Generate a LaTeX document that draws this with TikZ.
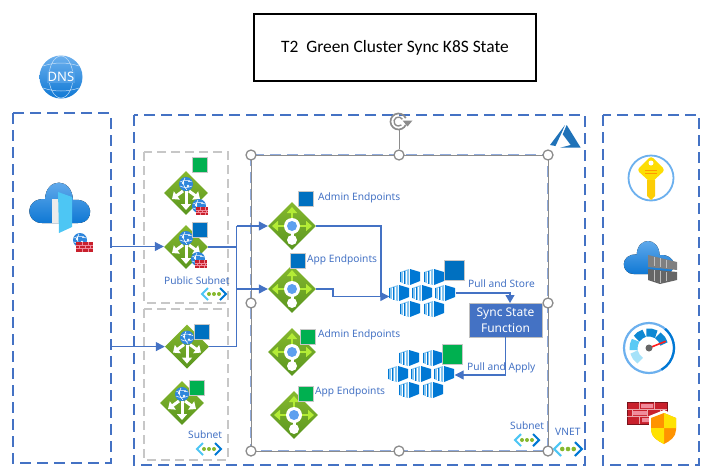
\documentclass[tikz,border=0pt]{standalone}
\usepackage{fontspec}
\setmainfont{Noto Sans}
\newfontfamily\titlefont{Carlito}
\usetikzlibrary{shapes.geometric,arrows.meta,calc}
\definecolor{azblue}{HTML}{4472C4}
\definecolor{handlegray}{HTML}{8C8C8C}
\definecolor{sqblue}{HTML}{0070C0}
\definecolor{sqgreen}{HTML}{00B050}
\definecolor{lbtop}{HTML}{86B82E}
\definecolor{lbbot}{HTML}{5A961F}
\definecolor{limearrow}{HTML}{B4EC36}
\definecolor{kblue}{HTML}{0078D4}
\definecolor{kpale}{HTML}{83C4F0}
\definecolor{cloudtop}{HTML}{6CB0EE}
\definecolor{cloudbot}{HTML}{0F78D4}
\definecolor{brick}{HTML}{C8202C}
\definecolor{brickpale}{HTML}{F08A9A}
\definecolor{azlogo}{HTML}{1F72B8}
\definecolor{hubdot}{HTML}{5EA0EF}
\definecolor{globeblue}{HTML}{2E86DC}
\tikzset{
  x=1pt,y=-1pt,
  zone/.style={draw=azblue,line width=2pt,dash pattern=on 11pt off 6pt},
  graybox/.style={draw=black!22,line width=1.8pt,dash pattern=on 9pt off 5pt},
  handle/.style={circle,draw=handlegray,fill=white,line width=1.3pt,minimum size=10pt,inner sep=0pt},
  lbpub/.style={diamond,aspect=1,inner sep=0pt,minimum size=44pt,top color=lbtop,bottom color=lbbot,draw=none},
  lbint/.style={diamond,aspect=1,inner sep=0pt,minimum size=48pt,top color=lbtop,bottom color=lbbot,draw=none},
  sq/.style={draw=black!22,line width=.8pt,minimum size=15pt,inner sep=0pt},
  sqb/.style={sq,fill=sqblue},
  sqg/.style={sq,fill=sqgreen},
  lab/.style={text=azblue,font=\fontsize{10.2}{12}\selectfont,inner sep=0pt,anchor=west},
  link/.style={draw=azblue,line width=1.1pt},
  linka/.style={link,-{Triangle[length=9pt,width=9pt]}},
  linkb/.style={link,-{Triangle[length=8pt,width=9pt]}},
  pics/pubarrows/.style={code={
    \draw[white,line width=3pt,-{Triangle[length=6pt,width=10pt]}] (0,-2)--(0,17);
    \draw[white,line width=3pt,-{Triangle[length=6pt,width=10pt]}] (-3,-2)--(-14,6);
    \draw[white,line width=3pt,-{Triangle[length=6pt,width=10pt]}] (3,-2)--(14,6);
    \pic at (0,-9) {globe};
  }},
  pics/globe/.style={code={
    \fill[globeblue] (0,0) circle (7);
    \draw[white,line width=.5pt] (-6,-2) .. controls (-2,-4) and (2,-4) .. (6,-2);
    \draw[white,line width=.5pt] (-6,2) .. controls (-2,4) and (2,4) .. (6,2);
    \draw[white,line width=.6pt] (-1,-6) .. controls (-4,-2) and (-3,2) .. (1,6);
    \fill[white] (-3,-1) circle (1.3) (2,2) circle (1.3) (3,-3) circle (1);
  }},
  pics/intarrows/.style={code={
    \draw[limearrow,line width=2.6pt,-{Triangle[length=6pt,width=10pt]}] (0,-5)--(0,-19);
    \draw[limearrow,line width=2.6pt,-{Triangle[length=6pt,width=10pt]}] (-5,0)--(-20,0);
    \draw[limearrow,line width=2.6pt,-{Triangle[length=6pt,width=10pt]}] (5,0)--(20,0);
    \draw[white,line width=3pt] (0,5)--(0,12);
    \fill[white] (0,14) circle (5);
    \fill[white] (0,0) circle (8);
    \fill[hubdot] (0,0) circle (5);
  }},
  pics/fwglobe/.style={code={
    \begin{scope}[scale=1.55]\pic at (0,0) {globe};\end{scope}
    \fill[brick] (-4,2) rectangle (13,12);
    \draw[brickpale,line width=.5pt] (-4,5.3)--(13,5.3) (-4,8.6)--(13,8.6) (2,2)--(2,5.3) (8,2)--(8,5.3) (-1,5.3)--(-1,8.6) (5,5.3)--(5,8.6) (10,5.3)--(10,8.6) (2,8.6)--(2,12) (8,8.6)--(8,12);
  }},
  pics/netdots/.style={code={
    \draw[cyan!70!white,line width=2.1pt] (-6,-6)--(-12,0)--(-6,6);
    \draw[kblue,line width=2.1pt] (6,-6)--(12,0)--(6,6);
    \fill[lbtop] (-5,0) circle (2) (0,0) circle (2) (5,0) circle (2);
  }},
  pics/kcube/.style={code={
    \fill[kpale] (-10,-5)--(-1,-8)--(-1,8)--(-10,5)--cycle;
    \draw[white,line width=.7pt] (-7,-5.5)--(-7,5.5) (-4,-6.5)--(-4,6.5);
    \draw[kblue,line width=.5pt] (-10,-5)--(-10,5) (-5.5,-6.5)--(-5.5,6.5);
    \fill[kblue] (0,-8)--(10,-5)--(10,4)--(0,8)--cycle;
  }},
  pics/kcluster/.style={code={
    \foreach \p/\q in {-12/-16,12/-16,-23/0,0/0,23/0,-12/16,12/16}{\pic at (\p,\q) {kcube};}
  }},
  pics/plaincloud/.style={code={
    \fill[top color=cloudtop,bottom color=cloudbot]
      (-18,16) .. controls (-35,16) and (-36,-9) .. (-15,-8)
      .. controls (-14,-30) and (12,-30) .. (13,-7)
      .. controls (34,-10) and (36,16) .. (18,16) -- cycle;
  }},
}
\begin{document}
\begin{tikzpicture}
\useasboundingbox (0,0) rectangle (709,472);
% zones
\draw[zone] (13,113) rectangle (110.5,463);
\draw[zone] (134,115) rectangle (585,465);
\draw[zone] (603,115) rectangle (699,465);
\draw[graybox] (144,152) rectangle (228,303);
\draw[graybox] (144,309) rectangle (228,460);
% title
\node[draw=black,line width=1.2pt,minimum width=282pt,minimum height=67pt,inner sep=0pt,font=\titlefont\fontsize{17.4}{20}\selectfont] (title) at (395,47.5) {T2\ \ Green Cluster Sync K8S State};
% selected area
\coordinate (selnw) at (251,155);
\coordinate (selse) at (548,451);
\draw[azblue!60!white,line width=1.7pt,dash pattern=on 11pt off 6pt] (selnw) rectangle (selse);
\draw[handlegray,line width=.8pt] (selnw) rectangle (selse);
\node[handle] (h2) at (399,155) {};
\draw[handlegray,line width=.8pt] (399,130) -- (h2);
\begin{scope}[shift={(398.5,121.5)},yscale=-1]
  \draw[handlegray,line width=1.7pt] (25:8) arc[start angle=25,end angle=335,radius=8];
  \draw[handlegray,line width=1.4pt] (30:4.5) arc[start angle=30,end angle=310,radius=4.5];
  \fill[handlegray] (4,1) -- (14,1) -- (9,-5) -- cycle;
\end{scope}
\node[handle] at (251,155) {};
\node[handle] at (548,155) {};
\node[handle] at (251,303) {};
\node[handle] at (548,303) {};
\node[handle] at (251,451) {};
\node[handle] at (399,451) {};
\node[handle] at (548,451) {};
% DNS
\node[circle,inner sep=0pt,minimum size=43pt,top color=cloudtop,bottom color=cloudbot] (dns) at (61,77) {};
\draw[white!60!cloudtop,line width=.5pt] (dns.center) ellipse (12 and 21);
\draw[white!60!cloudtop,line width=.5pt] (43,66)..controls (55,62) and (67,62)..(79,66) (43,88)..controls (55,92) and (67,92)..(79,88);
\node[text=white,font=\fontsize{13}{15}\selectfont,fill=cloudtop!70!cloudbot,inner sep=1pt] at (dns) {DNS};
% front door
\coordinate (door) at (60,207);
\pic at (door) {plaincloud};
\fill[black!8] (52,199) rectangle (59,223);
\fill[cyan!70!white] (58,192) -- (72,197) -- (72,227) -- (59,233) -- cycle;
\pic at (80,240) {fwglobe};
\node[inner sep=0pt,minimum size=1pt] (doorA) at (110,246.5) {};
\node[inner sep=0pt,minimum size=1pt] (doorB) at (110,346.6) {};
% public load balancers
\node[lbpub] (lba) at (186,193) {}; \pic at (lba) {pubarrows};
\node[lbpub] (lbb) at (186,247) {}; \pic at (lbb) {pubarrows};
\node[lbpub] (lbc) at (187,346.6) {}; \pic at (lbc) {pubarrows};
\node[lbpub] (lbd) at (182,403) {}; \pic at (lbd) {pubarrows};
\pic[scale=.72] at (199,206) {fwglobe};
\pic[scale=.72] at (198,259) {fwglobe};
\node[sqg] (sa) at (200,165) {};
\node[sqb] (sb) at (200,230) {};
\node[sqb] (sc) at (202,332) {};
\node[sqg] (sd) at (197,388) {};
% internal load balancers
\node[lbint] (ila) at (292,226) {}; \pic at (ila) {intarrows};
\node[lbint] (ilb) at (292,289) {}; \pic at (ilb) {intarrows};
\node[lbint] (ilc) at (292,352) {}; \pic at (ilc) {intarrows};
\node[lbint] (ild) at (294,415) {}; \pic at (ild) {intarrows};
\node[sqb] (sia) at (306,199) {};
\node[sqb] (sib) at (298,261) {};
\node[sqg] (sic) at (308,337) {};
\node[sqg] (sid) at (306,394) {};
\node[lab] (la) at (318,198) {Admin Endpoints};
\node[lab] (lb) at (307,260) {App Endpoints};
\node[lab] (lc) at (318,335) {Admin Endpoints};
\node[lab] (ld) at (315,392) {App Endpoints};
% clusters
\coordinate (ka) at (422,293);
\coordinate (kb) at (421,374);
\pic at (ka) {kcluster};
\pic at (kb) {kcluster};
\node[inner sep=0pt,minimum size=1pt] (kain) at (390,296.5) {};
\node[inner sep=0pt,minimum size=1pt] (kaout) at (455,293) {};
\node[inner sep=0pt,minimum size=1pt] (kbin) at (454,375) {};
\node[sqb,minimum size=20pt] (ska) at (454,270) {};
\node[sqg,minimum size=20pt] (skb) at (452,354) {};
% function
\node[draw=black!25,line width=.8pt,fill=azblue,text=white,minimum width=73pt,minimum height=34pt,inner sep=0pt,align=center,font=\fontsize{12}{16}\selectfont] (sync) at (505.5,320) {Sync State\\Function};
\node[lab] (ps) at (468,284) {Pull and Store};
\node[lab] (pa) at (467,368) {Pull and Apply};
% connectors
\coordinate (busT) at (236.5,226);
\coordinate (busB) at (236.5,346.6);
\draw[linka] (doorA) -- (doorA -| lbb.west);
\draw[linka] (doorB) -- (lbc.west);
\draw[link] (lbb.east) -- (lbb.east -| busT);
\draw[link] (lbc.east) -- (busB) -- (busT);
\draw[linka] (busT) -- (ila.west);
\draw[linka] (ilb.west -| busT) -- (ilb.west);
\draw[link] (ila.east) -- (381,226) -- (381,296.5);
\draw[linka] (ilb.east) -- (333,289) -- (333,296.5) -- (kain);
\draw[linkb] (kaout) -- (510,293) -- (510,303);
\draw[linka] (sync.south) -- (505.5,375) -- (kbin);
% net labels
\node[lab] (ns1) at (164,281) {Public Subnet};
\pic at (214,294) {netdots};
\node[lab] (ns2) at (188,435) {Subnet};
\pic at (209,449) {netdots};
\node[lab] (ns3) at (510,426) {Subnet};
\pic at (527,440) {netdots};
\node[lab] (ns4) at (555,432) {VNET};
\pic[scale=1.15] at (568,449) {netdots};
% azure logo
\fill[azlogo] (565,125) -- (550,145) -- (555.5,146) -- (562,132) -- cycle;
\fill[azlogo] (566.7,125) -- (580.7,147.7) -- (560,147.7) -- (570.7,145) -- (562.7,134.3) -- cycle;
% key vault
\draw[cloudtop,line width=1.8pt,fill=white] (651,178) circle (22.5);
\fill[yellow!80!orange,rounded corners=3pt] (651,156) -- (665,170) -- (651,183) -- (637,170) -- cycle;
\fill[yellow!65!orange] (647,180) -- (655,180) -- (655,196) -- (651,200) -- (647,196) -- cycle;
\fill[white] (651,163) circle (2.5);
\draw[orange!80!yellow,line width=.7pt] (645,170)--(657,170) (645,173)--(657,173);
% registry
\pic[scale=.82] at (649,261) {plaincloud};
\fill[black!50] (648,255) -- (677,262) -- (677,270) -- (648,267) -- cycle;
\fill[black!60] (648,269) -- (677,272) -- (677,280) -- (660,284) -- (648,280) -- cycle;
\draw[black!25,line width=.6pt] (654,257)--(654,266) (660,258)--(660,267) (666,260)--(666,268) (654,270)--(654,281) (660,271)--(660,283) (666,272)--(666,281);
% gauge
\begin{scope}[shift={(649,348)},yscale=-1]
\draw[cloudtop,line width=2.2pt,fill=white] (0,0) circle (25);
\draw[kblue,line width=2.2pt] (50:25) arc[start angle=50,end angle=-60,radius=25];
\draw[cyan!35!white,line width=8pt] (195:15.5) arc[start angle=195,end angle=235,radius=15.5];
\draw[cyan!65!white,line width=8pt] (150:15.5) arc[start angle=150,end angle=188,radius=15.5];
\draw[cyan!70!blue,line width=8pt] (108:15.5) arc[start angle=108,end angle=143,radius=15.5];
\draw[cyan!70!blue,line width=8pt] (62:15.5) arc[start angle=62,end angle=100,radius=15.5];
\draw[cyan!70!blue,line width=8pt] (15:15.5) arc[start angle=15,end angle=55,radius=15.5];
\draw[red!85!pink,line width=1.6pt] (0,0) -- (22:18);
\fill[black!60] (0,0) circle (3.5);
\end{scope}
% firewall
\fill[brick] (627,402) rectangle (667,424);
\draw[brick!60!black,line width=.6pt] (627,402) rectangle (667,424);
\fill[brickpale] (641,404) rectangle (653,408) (632,411) rectangle (647,415) (642,418) rectangle (652,422);
\draw[white!60!brick,line width=.6pt] (627,409.3)--(667,409.3) (627,416.6)--(667,416.6) (639,402)--(639,409.3) (654,402)--(654,409.3) (632,409.3)--(632,416.6) (647,409.3)--(647,416.6) (660,409.3)--(660,416.6) (639,416.6)--(639,424) (654,416.6)--(654,424);
\fill[white] (664,410) -- (678,416) -- (678,430) -- (664,446) -- (649,430) -- (649,416) -- cycle;
\fill[orange!85!yellow] (664,413) -- (676,418) -- (676,430) .. controls (676,437) and (670,441) .. (664,444) .. controls (658,441) and (651,437) .. (651,430) -- (651,418) -- cycle;
\fill[yellow!85!orange] (664,413) -- (676,418) -- (676,428) -- (664,428) -- cycle;
\fill[yellow!85!orange] (664,428) -- (651,428) -- (651,430) .. controls (651,437) and (658,441) .. (664,444) -- cycle;
\end{tikzpicture}
\end{document}
